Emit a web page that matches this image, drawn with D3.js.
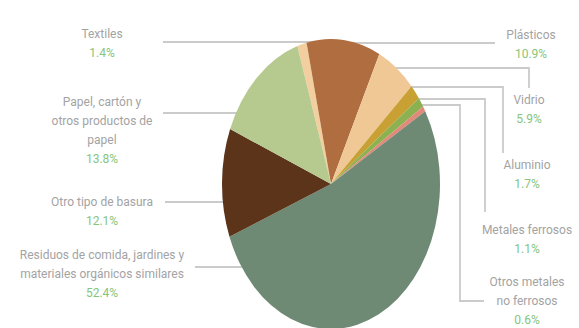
<!DOCTYPE html>
<html>
<head>
<meta charset="utf-8">
<script src="https://cdn.jsdelivr.net/npm/d3@7"></script>
<style>
  html, body { margin: 0; padding: 0; background: #fff; }
  svg { display: block; }
  text { font-family: "Liberation Sans Narrow", "Roboto", sans-serif; }
</style>
</head>
<body>
<svg id="chart"></svg>
<script>
// composición de residuos (%)
const categories = [
  "Textiles", "Plásticos", "Vidrio", "Aluminio", "Metales ferrosos",
  "Otros metales no ferrosos",
  "Residuos de comida, jardines y materiales orgánicos similares",
  "Otro tipo de basura", "Papel, cartón y otros productos de papel"
];
const values = [1.4, 10.9, 5.9, 1.7, 1.1, 0.6, 52.4, 12.1, 13.8];
const valueLabels = ["1.4%", "10.9%", "5.9%", "1.7%", "1.1%", "0.6%", "52.4%", "12.1%", "13.8%"];
const colors = ["#f3cf9f", "#b06d3f", "#efc896", "#c9a033", "#8cb150", "#e2897a", "#6f8a74", "#5b3419", "#b6c98f"];

// label text lines (as in the picture)
const labelLines = [
  ["Textiles"], ["Plásticos"], ["Vidrio"], ["Aluminio"], ["Metales ferrosos"],
  ["Otros metales", "no ferrosos"],
  ["Residuos de comida, jardines y", "materiales orgánicos similares"],
  ["Otro tipo de basura"], ["Papel, cartón y", "otros productos de", "papel"]
];

const width = 579, height = 328;
const cx = 331, cy = 184, rx = 109, ry = 145;

// label layout: text centre + leader path (y of the horizontal, end x, bends)
const layout = [
  { x: 102, y: 34, ly: 42, side: "L", lx: 163 },
  { x: 531, y: 35, ly: 43, side: "R", pts: [[495, 43]] },
  { x: 529, y: 100, ly: 68, side: "R", pts: [[529, 68], [529, 88]] },
  { x: 527, y: 165, ly: 87, side: "R", pts: [[503, 87], [503, 153]] },
  { x: 527, y: 230, ly: 99, side: "R", pts: [[485, 99], [485, 212]] },
  { x: 527, y: 282, ly: 105, side: "R", pts: [[460, 105], [460, 301], [484, 301]] },
  { x: 102, y: 255, ly: 267, side: "L", lx: 195 },
  { x: 102, y: 202, ly: 202, side: "L", lx: 165 },
  { x: 102, y: 102, ly: 113, side: "L", lx: 163 }
];
const lineH = 19;

const svg = d3.select("#chart").attr("width", width).attr("height", height);

// leader lines (behind the pie)
const edgeX = (y, side) => {
  const t = (y - cy) / ry;
  const dx = rx * Math.sqrt(Math.max(0, 1 - t * t));
  return side === "L" ? cx - dx + 4 : cx + dx - 4;
};

const lines = svg.append("g").attr("fill", "none").attr("stroke", "#cbcbcb").attr("stroke-width", 1.8);
layout.forEach(l => {
  let pts;
  if (l.side === "L") pts = [[l.lx, l.ly], [edgeX(l.ly, "L"), l.ly]];
  else pts = [[edgeX(l.ly, "R"), l.ly]].concat(l.pts);
  lines.append("path").attr("d", d3.line()(pts));
});

// pie (elliptical)
const start = -18 * Math.PI / 180;
const pie = d3.pie().sort(null).startAngle(start).endAngle(start + 2 * Math.PI);
const arc = d3.arc().innerRadius(0).outerRadius(ry);

svg.append("g")
  .attr("transform", `translate(${cx},${cy}) scale(${rx / ry},1)`)
  .selectAll("path")
  .data(pie(values))
  .enter()
  .append("path")
  .attr("d", arc)
  .attr("fill", (d, i) => colors[i]);

// labels
const labels = svg.append("g").attr("text-anchor", "middle").style("font-size", "12px");
layout.forEach((l, i) => {
  const txt = labels.append("text").attr("x", l.x).attr("y", l.y + 4);
  labelLines[i].forEach((s, j) => {
    txt.append("tspan").attr("x", l.x).attr("dy", j === 0 ? 0 : lineH).attr("fill", "#a3a3a3").text(s);
  });
  txt.append("tspan").attr("x", l.x).attr("dy", lineH).attr("fill", "#86c57a").text(valueLabels[i]);
});
</script>
</body>
</html>
